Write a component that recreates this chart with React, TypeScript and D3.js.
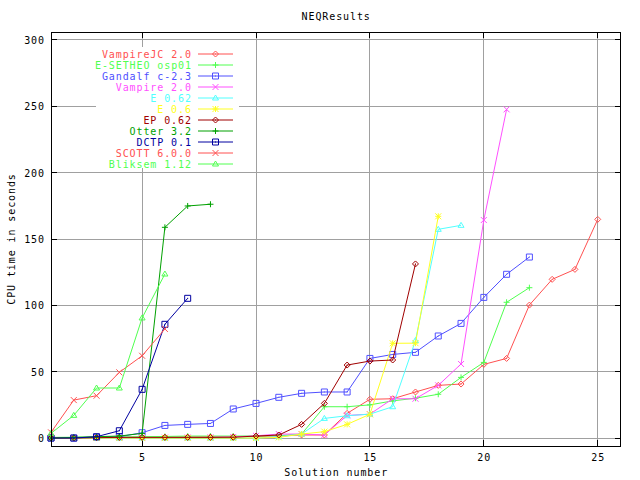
import React from "react";
import * as d3 from "d3";

const seriesNames = [
  "VampireJC 2.0", "E-SETHEO osp01", "Gandalf c-2.3", "Vampire 2.0", "E 0.62", "E 0.6",
  "EP 0.62", "Otter 3.2", "DCTP 0.1", "SCOTT 6.0.0", "Bliksem 1.12",
];
const seriesColors = [
  "#ff5050", "#50ff50", "#5050ff", "#ff50ff", "#50ffff", "#ffff20",
  "#a00000", "#00a000", "#0000a0", "#ff5050", "#50ff50",
];
const seriesMarkers = ["diamond", "plus", "square", "cross", "triangle", "star",
  "diamond", "plus", "square", "cross", "triangle"];

const vampireJC = [0.2, 0.3, 0.4, 0.5, 0.6, 0.7, 0.8, 0.9, 1, 1.2, 1.6, 2.3, 2.3, 18.6, 29.2, 29.6, 34.7, 39.7, 40.7, 55.5, 60, 100.2, 119.6, 127.1, 164.8];
const eSetheo = [0.5, 0.6, 0.7, 0.8, 1, 1.2, 1.5, 1.5, 1.5, 1.6, 1.8, 3, 23.6, 23.6, 25, 28, 30, 33, 45.7, 57, 102.3, 113.3];
const gandalf = [0, 0, 0.5, 1, 4, 9.5, 10.3, 11, 21.9, 26.1, 30.7, 33.7, 34.7, 34.7, 60, 63, 64.6, 76.9, 86.4, 106, 123.4, 136.4];
const vampire2 = [0.1, 0.1, 0.2, 0.2, 0.3, 0.3, 0.4, 0.5, 0.8, 1.7, 3, 3, 2.3, 17, 18, 29.6, 29.6, 39.7, 55.8, 164.3, 247.7];
const e062 = [0, 0, 0, 0, 0, 0, 0, 0, 0, 0, 1, 3, 14.8, 16.8, 18, 23.6, 73.5, 157.3, 160.3];
const e06 = [0, 0, 0, 0, 0, 0, 0, 0, 0, 0, 0.5, 3, 4.8, 10.3, 17.9, 71.4, 71.5, 167.1];
const ep062 = [0, 0, 0.3, 0.5, 0.5, 0.5, 0.5, 0.5, 0.6, 1.5, 2.3, 10.3, 26.1, 55, 58, 58.8, 131.2];
const otter = [0, 0.5, 1, 1.5, 3.5, 158.8, 174.9, 176.2];
const dctp = [0, 0, 1, 5.5, 36.7, 85.7, 105.3];
const scott = [4.3, 28.6, 31.9, 49.5, 62, 82.2];
const bliksem = [3.5, 17.1, 37.7, 37.7, 90.5, 123.6];

const seriesValues = [vampireJC, eSetheo, gandalf, vampire2, e062, e06, ep062, otter, dctp, scott, bliksem];

const xTicks = [5, 10, 15, 20, 25];
const yTicks = [0, 50, 100, 150, 200, 250, 300];

const titleText = "NEQResults";
const xLabel = "Solution number";
const yLabel = "CPU time in seconds";

const FONT = "'DejaVu Sans Mono', monospace";
const LS = 0.9;

function markerPath(kind: string, cx: number, cy: number): string {
  const s = 3;
  switch (kind) {
    case "diamond":
      return `M${cx - s},${cy}L${cx},${cy - s}L${cx + s},${cy}L${cx},${cy + s}Z`;
    case "plus":
      return `M${cx - s},${cy}H${cx + s}M${cx},${cy - s}V${cy + s}`;
    case "square":
      return `M${cx - s},${cy - s}H${cx + s}V${cy + s}H${cx - s}Z`;
    case "cross":
      return `M${cx - s},${cy - s}L${cx + s},${cy + s}M${cx - s},${cy + s}L${cx + s},${cy - s}`;
    case "triangle":
      return `M${cx},${cy - s}L${cx + s},${cy + s - 1}H${cx - s}Z`;
    case "star":
      return `M${cx - s},${cy}H${cx + s}M${cx},${cy - s}V${cy + s}M${cx - s},${cy - s}L${cx + s},${cy + s}M${cx - s},${cy + s}L${cx + s},${cy - s}`;
    default:
      return "";
  }
}

function Marker({ kind, cx, cy, color }: { kind: string; cx: number; cy: number; color: string }) {
  return (
    <g>
      <path d={markerPath(kind, cx, cy)} fill="none" stroke={color} strokeWidth={1} />
      {kind === "square" || kind === "diamond" ? (
        <rect x={cx - 0.5} y={cy - 0.5} width={1} height={1} fill={color} />
      ) : null}
    </g>
  );
}

export default function App() {
  const left = 51, right = 620.5, top = 32, bottom = 446;
  const x = d3.scaleLinear().domain([1, 26]).range([left, right]);
  const y = d3.scaleLinear().domain([-6, 306]).range([bottom, top]);
  const line = d3.line<number>().x((_, i) => x(i + 1)).y((v) => y(v));

  const legendRight = 191 + LS;
  const legendY0 = 54;
  const legendStep = 11;

  return (
    <svg width={640} height={480} style={{ position: "fixed", left: 0, top: 0, background: "#fff" }}
      fontFamily={FONT} fontSize={10} letterSpacing={LS}>
      <rect x={0} y={0} width={640} height={480} fill="#fff" />
      {/* grid */}
      {xTicks.map((t) => (
        <line key={"gx" + t} x1={x(t)} x2={x(t)} y1={top} y2={bottom} stroke="#a0a0a0" shapeRendering="crispEdges" />
      ))}
      {yTicks.map((t) => (
        <line key={"gy" + t} x1={left} x2={right} y1={y(t)} y2={y(t)} stroke="#a0a0a0" shapeRendering="crispEdges" />
      ))}
      {/* legend background */}
      <rect x={96} y={47} width={143} height={121} fill="#fff" />
      {/* ticks */}
      {xTicks.map((t) => (
        <g key={"tx" + t}>
          <line x1={x(t)} x2={x(t)} y1={bottom} y2={bottom - 6} stroke="#000" shapeRendering="crispEdges" />
          <line x1={x(t)} x2={x(t)} y1={top} y2={top + 6} stroke="#000" shapeRendering="crispEdges" />
          <text x={x(t) + LS / 2} y={461} textAnchor="middle">{t}</text>
        </g>
      ))}
      {yTicks.map((t) => (
        <g key={"ty" + t}>
          <line x1={left} x2={left + 6} y1={y(t)} y2={y(t)} stroke="#000" shapeRendering="crispEdges" />
          <line x1={right} x2={right - 6} y1={y(t)} y2={y(t)} stroke="#000" shapeRendering="crispEdges" />
          <text x={44 + LS} y={y(t) + 4} textAnchor="end">{t}</text>
        </g>
      ))}
      {/* series */}
      {seriesValues.map((vals, si) => (
        <g key={"s" + si}>
          <path d={line(vals) || ""} fill="none" stroke={seriesColors[si]} strokeWidth={1} />
          {vals.map((v, i) => (
            <Marker key={i} kind={seriesMarkers[si]} cx={x(i + 1)} cy={y(v)} color={seriesColors[si]} />
          ))}
        </g>
      ))}
      {/* legend */}
      {seriesNames.map((name, si) => {
        const ly = legendY0 + si * legendStep;
        return (
          <g key={"l" + si}>
            <text x={legendRight} y={ly + 3.5} textAnchor="end" fill={seriesColors[si]}>{name}</text>
            <line x1={198} x2={233} y1={ly} y2={ly} stroke={seriesColors[si]} />
            <Marker kind={seriesMarkers[si]} cx={215.5} cy={ly} color={seriesColors[si]} />
          </g>
        );
      })}
      {/* frame */}
      <rect x={left} y={top} width={right - left} height={bottom - top} fill="none" stroke="#000" shapeRendering="crispEdges" />
      <text x={(left + right) / 2 + LS / 2} y={20} textAnchor="middle">{titleText}</text>
      <text x={(left + right) / 2 + LS / 2} y={476} textAnchor="middle">{xLabel}</text>
      <text transform={`translate(15,239) rotate(-90)`} textAnchor="middle">{yLabel}</text>
    </svg>
  );
}
